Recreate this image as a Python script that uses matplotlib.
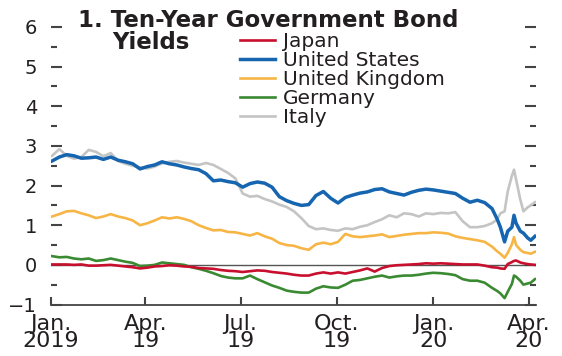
import pandas as pd
import matplotlib
matplotlib.use('Agg')
import matplotlib.pyplot as plt
from matplotlib.ticker import MultipleLocator

plt.rcParams['font.family'] = ['DejaVu Sans']

# weekly observations, then denser points through the March 2020 turmoil
weeks = list(pd.date_range('2019-01-02', '2020-02-26', freq='7D'))
march = list(pd.to_datetime(['2020-03-02', '2020-03-05', '2020-03-09', '2020-03-12',
                             '2020-03-16', '2020-03-18', '2020-03-20', '2020-03-24',
                             '2020-03-27', '2020-03-31', '2020-04-03', '2020-04-07']))
dates = weeks + march

japan = [0.01, 0.01, 0.01, 0.00, 0.01, -0.02, -0.02, -0.01, 0.00, -0.02,
         -0.04, -0.06, -0.09, -0.07, -0.04, -0.03, -0.01, -0.02, -0.04, -0.05,
         -0.08, -0.09, -0.10, -0.13, -0.15, -0.16, -0.18, -0.16, -0.14, -0.15,
         -0.18, -0.20, -0.22, -0.25, -0.27, -0.27, -0.22, -0.19, -0.22, -0.19,
         -0.22, -0.18, -0.14, -0.09, -0.17, -0.08, -0.03, -0.01, 0.00, 0.01,
         0.02, 0.04, 0.03, 0.04, 0.03, 0.02, 0.01, 0.01, 0.01, -0.02,
         -0.06, -0.07, -0.09, -0.10, 0.02, 0.07, 0.10, 0.11, 0.06, 0.04,
         0.02, 0.01, 0.00]

us = [2.62, 2.72, 2.78, 2.75, 2.69, 2.70, 2.72, 2.66, 2.72, 2.64,
      2.60, 2.55, 2.42, 2.48, 2.52, 2.60, 2.55, 2.52, 2.47, 2.43,
      2.40, 2.30, 2.12, 2.14, 2.10, 2.07, 1.96, 2.05, 2.09, 2.06,
      1.96, 1.72, 1.62, 1.55, 1.50, 1.52, 1.75, 1.85, 1.68, 1.56,
      1.70, 1.76, 1.81, 1.84, 1.90, 1.92, 1.84, 1.80, 1.76, 1.83,
      1.88, 1.91, 1.89, 1.86, 1.83, 1.80, 1.68, 1.58, 1.63, 1.57,
      1.42, 1.15, 0.95, 0.58, 0.85, 0.95, 1.25, 1.05, 0.85, 0.80,
      0.68, 0.62, 0.72]

uk = [1.22, 1.28, 1.35, 1.36, 1.30, 1.25, 1.18, 1.22, 1.28, 1.22,
      1.18, 1.12, 1.00, 1.05, 1.12, 1.20, 1.17, 1.20, 1.16, 1.10,
      1.00, 0.93, 0.87, 0.88, 0.83, 0.82, 0.78, 0.74, 0.80, 0.72,
      0.66, 0.55, 0.50, 0.48, 0.42, 0.38, 0.52, 0.56, 0.52, 0.58,
      0.78, 0.72, 0.70, 0.72, 0.74, 0.77, 0.70, 0.73, 0.76, 0.78,
      0.80, 0.80, 0.82, 0.81, 0.79, 0.72, 0.68, 0.65, 0.62, 0.58,
      0.46, 0.34, 0.28, 0.18, 0.30, 0.52, 0.70, 0.50, 0.38, 0.32,
      0.30, 0.28, 0.33]

germany = [0.22, 0.19, 0.20, 0.16, 0.14, 0.16, 0.10, 0.12, 0.16, 0.12,
           0.08, 0.05, -0.03, -0.02, 0.00, 0.06, 0.04, 0.02, 0.00, -0.06,
           -0.10, -0.15, -0.21, -0.28, -0.32, -0.34, -0.34, -0.27, -0.36, -0.44,
           -0.52, -0.58, -0.65, -0.68, -0.70, -0.70, -0.60, -0.54, -0.57, -0.58,
           -0.50, -0.40, -0.38, -0.34, -0.30, -0.27, -0.32, -0.29, -0.27, -0.27,
           -0.25, -0.22, -0.20, -0.21, -0.23, -0.26, -0.36, -0.40, -0.40, -0.45,
           -0.58, -0.66, -0.72, -0.84, -0.68, -0.48, -0.27, -0.30, -0.40, -0.50,
           -0.47, -0.45, -0.36]

italy = [2.75, 2.92, 2.75, 2.68, 2.72, 2.90, 2.85, 2.74, 2.82, 2.62,
         2.55, 2.50, 2.46, 2.43, 2.48, 2.56, 2.60, 2.62, 2.58, 2.55,
         2.52, 2.57, 2.52, 2.42, 2.32, 2.18, 1.80, 1.72, 1.74, 1.66,
         1.60, 1.52, 1.46, 1.35, 1.18, 0.98, 0.90, 0.92, 0.88, 0.86,
         0.92, 0.90, 0.96, 1.00, 1.08, 1.15, 1.25, 1.20, 1.30, 1.28,
         1.22, 1.30, 1.28, 1.31, 1.30, 1.33, 1.10, 0.95, 0.95, 0.98,
         1.05, 1.15, 1.30, 1.35, 1.85, 2.25, 2.40, 2.15, 1.65, 1.35,
         1.45, 1.50, 1.58]

tick_dates = pd.to_datetime(['2019-01-01', '2019-04-01', '2019-07-01',
                             '2019-10-01', '2020-01-01', '2020-04-01'])
tick_labels = ['Jan.\n2019', 'Apr.\n19', 'Jul.\n19', 'Oct.\n19', 'Jan.\n20', 'Apr.\n20']

fig = plt.figure(figsize=(5.62, 3.56), dpi=100)
ax = fig.add_axes([51 / 562, 1 - 304.5 / 356, 485 / 562, 277.5 / 356])

ax.axhline(0, color='#555555', lw=1.0, zorder=1)
ax.plot(dates, italy, color='#C4C4C4', lw=1.9, label='Italy', zorder=2)
ax.plot(dates, uk, color='#F7B545', lw=1.9, label='United Kingdom', zorder=3)
ax.plot(dates, germany, color='#3A8A32', lw=1.9, label='Germany', zorder=3)
ax.plot(dates, japan, color='#C8102E', lw=1.9, label='Japan', zorder=4)
ax.plot(dates, us, color='#1565B0', lw=2.5, label='United States', zorder=5)

ax.set_xlim(pd.Timestamp('2019-01-01'), pd.Timestamp('2020-04-08'))
ax.set_ylim(-1, 6)

for s in ['top', 'left', 'right']:
    ax.spines[s].set_visible(False)
ax.spines['bottom'].set_color('#444444')
ax.spines['bottom'].set_linewidth(1.3)

ax.set_xticks(tick_dates)
ax.set_xticklabels(tick_labels, fontsize=16, linespacing=0.8, color='#231F20')
ax.tick_params(axis='x', direction='in', length=6, width=1.5, color='#444444', pad=7)

ax.yaxis.set_major_locator(MultipleLocator(1))
ax.yaxis.set_minor_locator(MultipleLocator(0.5))
ax.tick_params(axis='y', which='both', direction='in', left=True, right=True,
               color='#444444', width=1.5, labelsize=14, labelcolor='#231F20', pad=10)
ax.tick_params(axis='y', which='major', length=8)
ax.tick_params(axis='y', which='minor', length=4)

# legend order as in the source
h, l = ax.get_legend_handles_labels()
order = ['Japan', 'United States', 'United Kingdom', 'Germany', 'Italy']
hs = [h[l.index(o)] for o in order]
leg = ax.legend(hs, order, loc='upper left', bbox_to_anchor=(240 / 562, 1 - 32 / 356),
                bbox_transform=fig.transFigure, frameon=False, fontsize=14.5,
                handlelength=1.75, handletextpad=0.4, labelspacing=0.0,
                borderpad=0, borderaxespad=0)
for t in leg.get_texts():
    t.set_color('#231F20')

fig.text(78 / 562, 1 - 9 / 356, '1. Ten-Year Government Bond', ha='left', va='top',
         fontsize=16.5, fontweight='bold', color='#231F20')
fig.text(112 / 562, 1 - 31 / 356, 'Yields', ha='left', va='top',
         fontsize=16.5, fontweight='bold', color='#231F20')

fig.savefig('out.png', dpi=100)
